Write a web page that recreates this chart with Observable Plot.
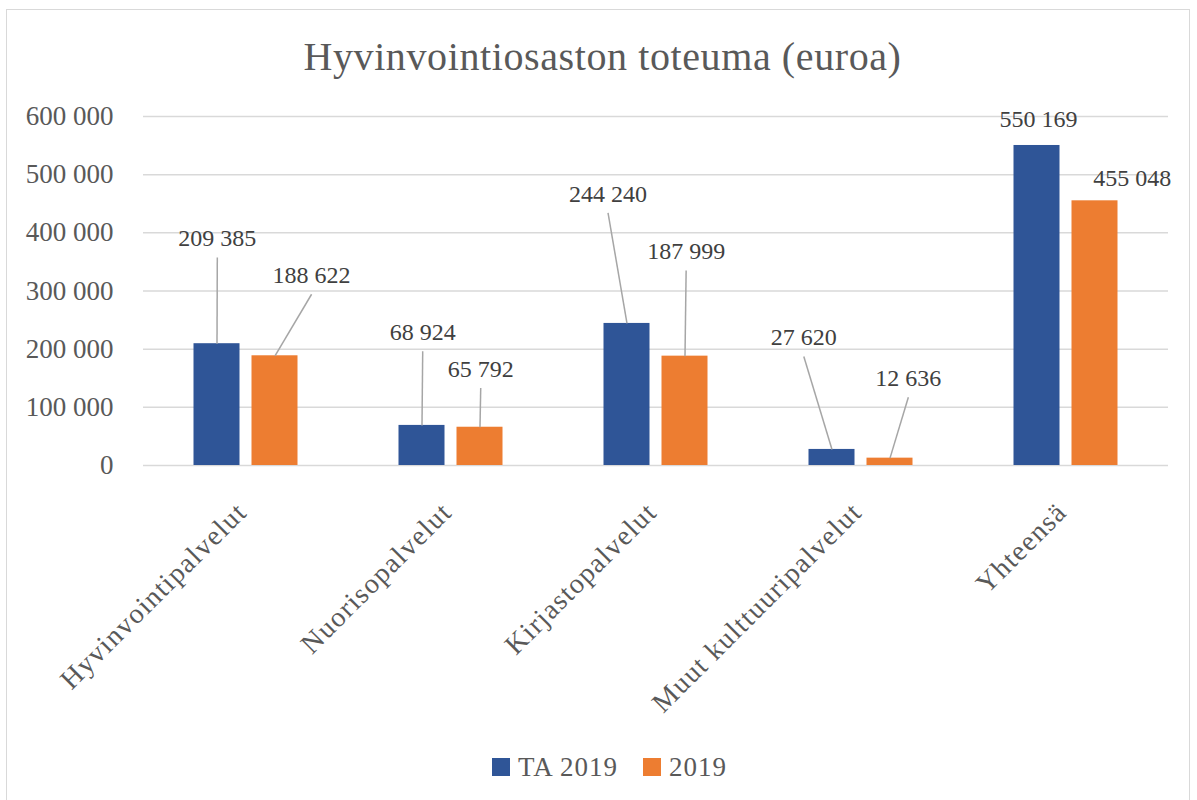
<!DOCTYPE html>
<html><head><meta charset="utf-8">
<script src="https://cdn.jsdelivr.net/npm/d3@7"></script>
<script src="https://cdn.jsdelivr.net/npm/@observablehq/plot@0.6"></script>
<style>
body{margin:0;background:#fff;font-family:"Liberation Serif",serif;}
#frame{position:absolute;left:6px;top:9px;width:1184px;height:800px;border:1px solid #d9d9d9;box-sizing:border-box;}
#title{position:absolute;left:0;width:1205px;top:37px;text-align:center;font-size:40px;line-height:40px;color:#595959;letter-spacing:0.6px;white-space:nowrap;}
#chart{position:absolute;left:0;top:90px;}
#chart g[aria-label="x-axis tick label"] text{letter-spacing:1.3px;}
#legend{position:absolute;left:492px;top:752px;display:flex;align-items:center;font-size:27px;line-height:30px;color:#595959;letter-spacing:1px;}
#legend .sw{width:18px;height:18px;display:inline-block;margin-right:8px;}
#legend .item{display:flex;align-items:center;margin-right:25px;}
</style></head>
<body>
<div id="frame"></div>
<div id="title">Hyvinvointiosaston toteuma (euroa)</div>
<div id="chart"></div>
<div id="legend"></div>
<script>
// ---- data ----
const categories = ["Hyvinvointipalvelut", "Nuorisopalvelut", "Kirjastopalvelut", "Muut kulttuuripalvelut", "Yhteensä"];
const seriesNames = ["TA 2019", "2019"];
const seriesColors = ["#2F5597", "#ED7D31"];
const valuesTA2019 = [209385, 68924, 244240, 27620, 550169];
const values2019 = [188622, 65792, 187999, 12636, 455048];
const yTicks = [0, 100000, 200000, 300000, 400000, 500000, 600000];
// data-label placement (category-position, value-height), as moved in the original
const labelPosTA2019 = [[0.36, 390000], [1.362, 229000], [2.266, 467000], [3.221, 220000], [4.366, 596000]];
const labelPos2019 = [[0.82, 327000], [1.645, 166000], [2.647, 368000], [3.731, 150000], [4.823, 494500]];

// ---- layout ----
const bandPx = 205, barPx = 46, gapPx = 12;
const bw = barPx / bandPx, gh = gapPx / 2 / bandPx;
const serif = "'Liberation Serif', serif";
const fmt = d3.formatLocale({decimal: ",", thousands: " ", grouping: [3], currency: ["", "€"]}).format(",");

const allValues = [valuesTA2019, values2019];
const allLabels = [labelPosTA2019, labelPos2019];
const rows = [];
seriesNames.forEach((s, si) => {
  categories.forEach((c, i) => {
    const x1 = si === 0 ? i + 0.5 - gh - bw : i + 0.5 + gh;
    rows.push({cat: c, series: s, si, value: allValues[si][i], x1, x2: x1 + bw, bx: x1 + bw / 2,
      lx: allLabels[si][i][0], ly: allLabels[si][i][1]});
  });
});
const yPerPx = 600000 / 349.8;
const leaderGap = 19 * yPerPx;
const leaders = rows.filter(d => d.ly - d.value > 60000);

const chart = Plot.plot({
  width: 1197, height: 640,
  marginTop: 26, marginBottom: 265, marginLeft: 143, marginRight: 29,
  x: {domain: [0, 5]},
  y: {domain: [0, 600000]},
  color: {domain: seriesNames, range: seriesColors},
  style: {fontFamily: serif, fontSize: "27px", color: "#595959", background: "transparent"},
  marks: [
    Plot.gridY(yTicks, {stroke: "#d9d9d9", strokeOpacity: 1, strokeWidth: 1.5}),
    Plot.axisY(yTicks, {tickSize: 0, tickPadding: 30, tickFormat: fmt, label: null, fontSize: 27, fontFamily: serif}),
    Plot.axisX(categories.map((_, i) => i + 0.5), {tickSize: 0, tickRotate: -45, tickPadding: 42, dx: -4,
      tickFormat: d => categories[Math.floor(d)], label: null, fontSize: 28, fontFamily: serif}),
    Plot.rectY(rows, {x1: "x1", x2: "x2", y: "value", fill: "series"}),
    Plot.link(leaders, {x1: "lx", y1: d => d.ly - leaderGap, x2: "bx", y2: "value", stroke: "#a6a6a6", strokeWidth: 1.5}),
    Plot.text(rows, {x: "lx", y: "ly", text: d => fmt(d.value), fontSize: 24, fontFamily: serif, fill: "#404040"})
  ]
});
document.getElementById("chart").append(chart);

const legend = document.getElementById("legend");
seriesNames.forEach((s, i) => {
  const item = document.createElement("span");
  item.className = "item";
  item.innerHTML = `<span class="sw" style="background:${seriesColors[i]}"></span><span>${s}</span>`;
  legend.append(item);
});
</script>
</body></html>
